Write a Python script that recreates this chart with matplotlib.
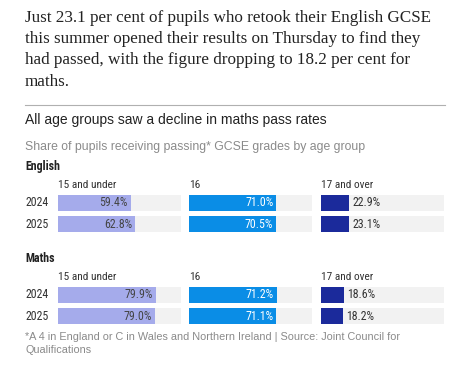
import matplotlib
matplotlib.use("Agg")
import matplotlib.pyplot as plt
from matplotlib import font_manager as fm

W, H = 467, 368

# ---- data ----
sections = ["English", "Maths"]
age_groups = ["15 and under", "16", "17 and over"]
years = ["2024", "2025"]
english_values = [[59.4, 62.8], [71.0, 70.5], [22.9, 23.1]]
maths_values = [[79.9, 79.0], [71.2, 71.1], [18.6, 18.2]]
values = {"English": english_values, "Maths": maths_values}

headline = ["Just 23.1 per cent of pupils who retook their English GCSE",
            "this summer opened their results on Thursday to find they",
            "had passed, with the figure dropping to 18.2 per cent for",
            "maths."]
title = "All age groups saw a decline in maths pass rates"
subtitle = "Share of pupils receiving passing* GCSE grades by age group"
footnote = ["*A 4 in England or C in Wales and Northern Ireland | Source: Joint Council for",
            "Qualifications"]

colors = ["#a5abeb", "#0a8de6", "#1b2a9b"]
label_colors = ["#444444", "#ffffff", "#333333"]
track = "#f2f2f2"

fonts = fm.fontManager.ttflist
names = {f.name for f in fonts}
narrow_kw = None
for cand in ["Liberation Sans Narrow", "Roboto Condensed", "Open Sans Condensed", "Noto Sans Condensed"]:
    if cand in names:
        narrow_kw = dict(family=cand)
        break
if narrow_kw is None:
    cond = [f for f in fonts if f.name == "DejaVu Sans" and "condensed" in str(f.stretch).lower()]
    if cond:
        narrow_kw = dict(family="DejaVu Sans", stretch="condensed")
    else:
        narrow_kw = dict(family="Roboto")

serif = "Liberation Serif"
sans = "Liberation Sans"

fig = plt.figure(figsize=(W / 100, H / 100), dpi=100)
fig.patch.set_facecolor("white")


def T(x, y, s, **kw):
    fig.text(x / W, 1 - y / H, s, **kw)


for i, line in enumerate(headline):
    T(25, 21.5 + i * 21.5, line, family=serif, fontsize=12.3, color="#222222", va="baseline")

fig.add_artist(plt.Line2D([25 / W, 445 / W], [1 - 105 / H, 1 - 105 / H],
                          transform=fig.transFigure, color="#b0b0b0", lw=0.8))

T(25, 124, title, family=sans, fontsize=10.0, color="#222222", va="baseline")
T(25, 150, subtitle, family=sans, fontsize=8.8, color="#8a8a8a", va="baseline")

col_left = [58, 189, 321]
col_w = 123
sec_top = {"English": 170, "Maths": 262}   # section label baseline
row_c0 = {"English": 203, "Maths": 295}    # first row centre
pitch = 21
bar_h = 16

for sec in sections:
    T(25, sec_top[sec], sec, fontsize=8.6, weight="bold", color="#222222", va="baseline", **narrow_kw)
    c0 = row_c0[sec]
    for r, yr in enumerate(years):
        T(26, c0 + r * pitch, yr, fontsize=8.6, color="#333333", va="center", **narrow_kw)
    for c, grp in enumerate(age_groups):
        T(col_left[c], sec_top[sec] + 18, grp, fontsize=8.2, color="#333333", va="baseline", **narrow_kw)
        top = c0 - pitch / 2
        ax = fig.add_axes([col_left[c] / W, 1 - (top + 2 * pitch) / H, col_w / W, 2 * pitch / H])
        ax.set_xlim(0, 100)
        ax.set_ylim(1.5, -0.5)
        ax.axis("off")
        vals = values[sec][c]
        ypos = list(range(len(years)))
        ax.barh(ypos, [100] * len(vals), height=bar_h / pitch, color=track, lw=0)
        ax.barh(ypos, vals, height=bar_h / pitch, color=colors[c], lw=0)
        for yy, v in zip(ypos, vals):
            if c < 2:
                ax.text(v - 2.5, yy, f"{v:.1f}%", ha="right", va="center",
                        fontsize=8.6, color=label_colors[c], **narrow_kw)
            else:
                ax.text(v + 2.5, yy, f"{v:.1f}%", ha="left", va="center",
                        fontsize=8.6, color=label_colors[c], **narrow_kw)

T(25, 340, footnote[0], family=sans, fontsize=7.8, color="#8a8a8a", va="baseline")
T(25, 353, footnote[1], family=sans, fontsize=7.8, color="#8a8a8a", va="baseline")

fig.savefig("out.png", dpi=100, facecolor="white")
